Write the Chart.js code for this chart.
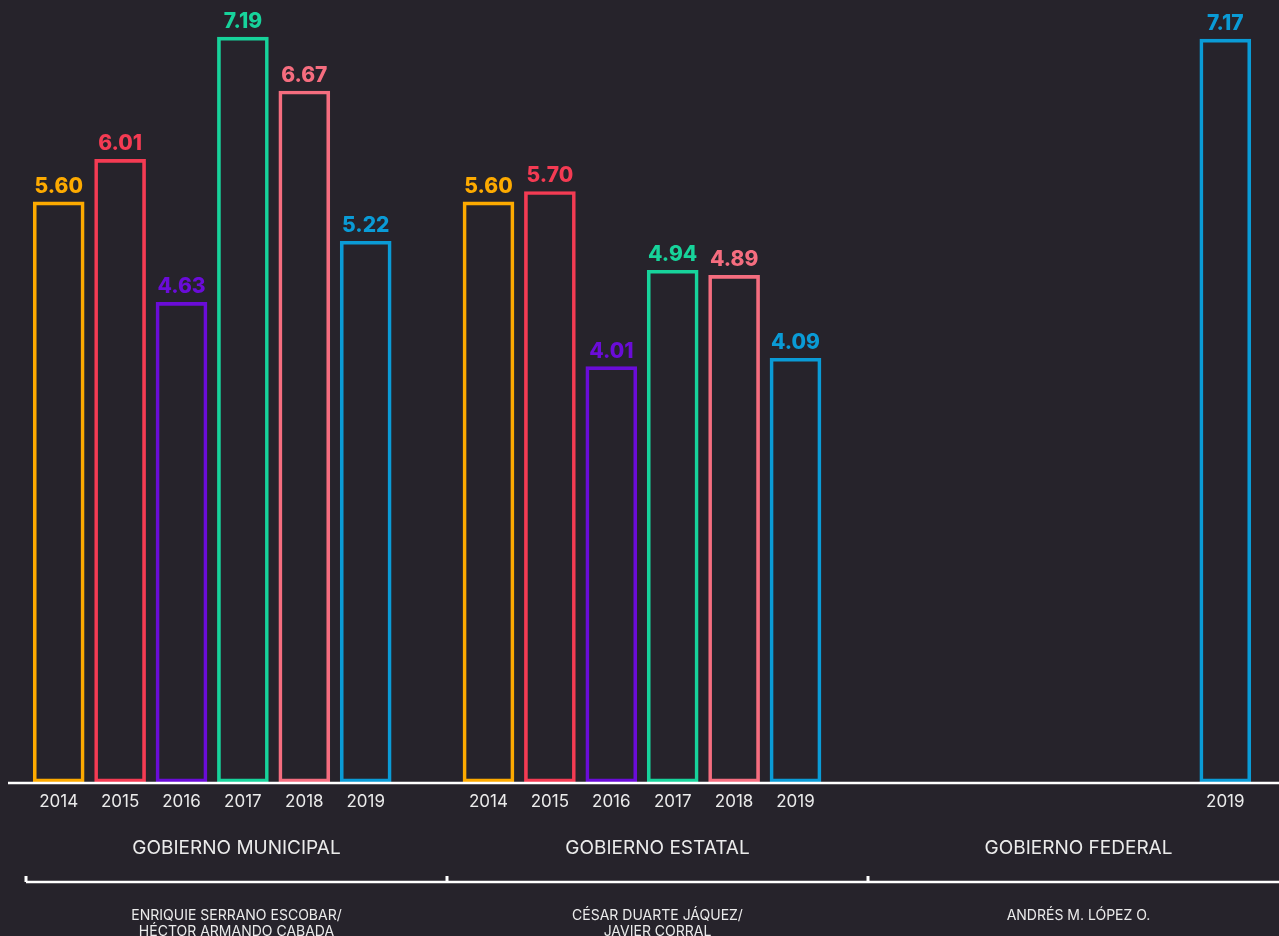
<!DOCTYPE html>
<html lang="es">
<head>
<meta charset="utf-8">
<title>Gobierno municipal, estatal y federal</title>
<script src="https://cdn.jsdelivr.net/npm/chart.js@4.4.9/dist/chart.umd.min.js"></script>
<style>
    html, body { margin: 0; padding: 0; background: #26232b; }
    #grafico { display: block; }
</style>
</head>
<body>
<canvas id="grafico" width="1279" height="936"></canvas>
<script>
// datos
const anios = ['2014', '2015', '2016', '2017', '2018', '2019'];
const municipal = [5.60, 6.01, 4.63, 7.19, 6.67, 5.22];
const estatal = [5.60, 5.70, 4.01, 4.94, 4.89, 4.09];
const aniosFederal = ['2019'];
const federal = [7.17];
const grupos = ['GOBIERNO MUNICIPAL', 'GOBIERNO ESTATAL', 'GOBIERNO FEDERAL'];
const gobernantes = [
    ['ENRIQUIE SERRANO ESCOBAR/', 'HÉCTOR ARMANDO CABADA'],
    ['CÉSAR DUARTE JÁQUEZ/', 'JAVIER CORRAL'],
    ['ANDRÉS M. LÓPEZ O.']
];
const coloresAnio = {
    '2014': '#fdaa00',
    '2015': '#f43b53',
    '2016': '#6a0cd8',
    '2017': '#17d39b',
    '2018': '#f56d7f',
    '2019': '#0a9bd6'
};

const huecoGrupos = 1;    // categorias vacias entre municipal y estatal
const huecoFederal = 6;   // categorias vacias antes del federal
const colorTexto = '#ebebeb';

// arma las categorias con huecos entre grupos
const etiquetas = [];
const valores = [];
const agregar = (lista, datos) => {
    lista.forEach((a, i) => { etiquetas.push(a); valores.push(datos[i]); });
};
const hueco = (n) => {
    for (let i = 0; i < n; i++) { etiquetas.push(''); valores.push(null); }
};
agregar(anios, municipal);
hueco(huecoGrupos);
agregar(anios, estatal);
hueco(huecoFederal);
agregar(aniosFederal, federal);

const colores = etiquetas.map(a => coloresAnio[a] || 'transparent');

const pluginValores = {
    id: 'valores',
    afterDatasetsDraw(chart) {
        const ctx = chart.ctx;
        const meta = chart.getDatasetMeta(0);
        ctx.save();
        ctx.font = '800 21px Inter, "Open Sans", sans-serif';
        ctx.textAlign = 'center';
        ctx.textBaseline = 'alphabetic';
        meta.data.forEach((barra, i) => {
            const v = valores[i];
            if (v === null || v === undefined) return;
            ctx.fillStyle = colores[i];
            ctx.fillText(v.toFixed(2), barra.x, barra.y - 9);
        });
        ctx.restore();
    }
};

const pluginDecoracion = {
    id: 'decoracion',
    afterDraw(chart) {
        const ctx = chart.ctx;
        const ancho = chart.width;
        const y0 = chart.scales.y.getPixelForValue(0);
        ctx.save();
        ctx.strokeStyle = '#ffffff';

        // linea base
        ctx.lineWidth = 2.5;
        ctx.beginPath();
        ctx.moveTo(8, y0 + 1);
        ctx.lineTo(ancho, y0 + 1);
        ctx.stroke();

        // llave inferior de grupos
        const inicio = 26;
        const tramo = 421;
        const yLlave = 882;
        ctx.beginPath();
        ctx.moveTo(inicio, yLlave);
        ctx.lineTo(ancho, yLlave);
        ctx.stroke();
        ctx.lineWidth = 3;
        for (let i = 0; i < grupos.length; i++) {
            const x = inicio + i * tramo;
            ctx.beginPath();
            ctx.moveTo(x, yLlave - 6);
            ctx.lineTo(x, yLlave);
            ctx.stroke();
        }

        ctx.fillStyle = colorTexto;
        ctx.textAlign = 'center';
        ctx.textBaseline = 'middle';
        grupos.forEach((g, i) => {
            const cx = inicio + (i + 0.5) * tramo;
            ctx.font = '400 19px Inter, "Open Sans", sans-serif';
            ctx.fillText(g, cx, 848);
            ctx.font = '400 14px Inter, "Open Sans", sans-serif';
            gobernantes[i].forEach((linea, j) => {
                ctx.fillText(linea, cx, 916 + j * 16);
            });
        });
        ctx.restore();
    }
};

const mostrarGrafico = () => {
    const ctx = document.getElementById('grafico');
    new Chart(ctx, {
        type: 'bar',
        data: {
            labels: etiquetas,
            datasets: [{
                data: valores,
                backgroundColor: 'transparent',
                borderColor: colores,
                borderWidth: 3,
                borderSkipped: false,
                barThickness: 51
            }]
        },
        options: {
            responsive: false,
            animation: false,
            layout: {
                padding: { left: 28, right: 23, top: 5, bottom: 114 }
            },
            plugins: {
                legend: { display: false },
                tooltip: { enabled: false }
            },
            scales: {
                y: {
                    display: false,
                    min: 0,
                    max: 7.5
                },
                x: {
                    grid: { display: false, drawTicks: false },
                    border: { display: false },
                    ticks: {
                        color: colorTexto,
                        font: { family: 'Inter, "Open Sans", sans-serif', size: 17 },
                        padding: 10,
                        maxRotation: 0,
                        autoSkip: false
                    },
                    afterFit: (scale) => { scale.height = 40; }
                }
            }
        },
        plugins: [pluginValores, pluginDecoracion]
    });
};

document.addEventListener('DOMContentLoaded', mostrarGrafico);
</script>
</body>
</html>
